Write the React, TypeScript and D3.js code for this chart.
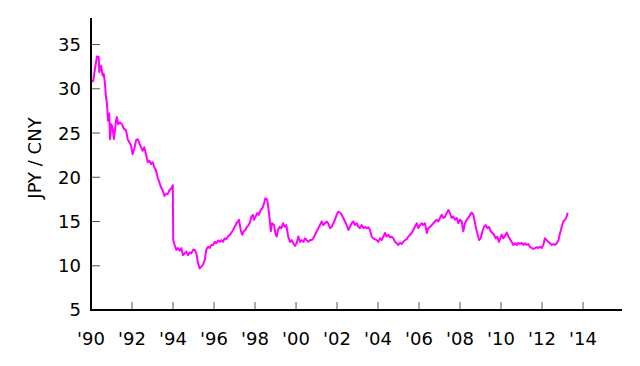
import React from 'react';
import * as d3 from 'd3';

// Decimal years of the sampled points
const years = [
  1990.00, 1990.11, 1990.21, 1990.29, 1990.38, 1990.40, 1990.49, 1990.57, 1990.62, 1990.68,
  1990.73, 1990.78, 1990.83, 1990.89, 1990.93, 1990.99, 1991.06, 1991.12, 1991.22, 1991.27,
  1991.32, 1991.41, 1991.51, 1991.60, 1991.71, 1991.79, 1991.87, 1991.95, 1992.03, 1992.11,
  1992.20, 1992.28, 1992.36, 1992.44, 1992.52, 1992.60, 1992.68, 1992.77, 1992.84, 1992.93,
  1993.01, 1993.09, 1993.17, 1993.25, 1993.33, 1993.41, 1993.50, 1993.58, 1993.66, 1993.74,
  1993.82, 1993.90, 1993.99, 1994.01, 1994.08, 1994.16, 1994.24, 1994.33, 1994.40, 1994.49,
  1994.57, 1994.65, 1994.73, 1994.81, 1994.89, 1994.98, 1995.06, 1995.14, 1995.22, 1995.30,
  1995.38, 1995.46, 1995.55, 1995.62, 1995.71, 1995.79, 1995.87, 1995.95, 1996.03, 1996.11,
  1996.20, 1996.28, 1996.36, 1996.44, 1996.52, 1996.60, 1996.68, 1996.77, 1996.84, 1996.93,
  1997.01, 1997.09, 1997.17, 1997.22, 1997.30, 1997.37, 1997.45, 1997.53, 1997.61, 1997.69,
  1997.77, 1997.82, 1997.90, 1997.95, 1998.03, 1998.11, 1998.18, 1998.28, 1998.36, 1998.44,
  1998.50, 1998.59, 1998.63, 1998.72, 1998.77, 1998.83, 1998.93, 1998.99, 1999.06, 1999.12,
  1999.20, 1999.28, 1999.37, 1999.45, 1999.53, 1999.62, 1999.71, 1999.79, 1999.87, 1999.95,
  2000.03, 2000.11, 2000.20, 2000.28, 2000.36, 2000.44, 2000.52, 2000.60, 2000.68, 2000.77,
  2000.84, 2000.93, 2001.01, 2001.09, 2001.17, 2001.25, 2001.33, 2001.41, 2001.50, 2001.57,
  2001.66, 2001.74, 2001.82, 2001.90, 2001.98, 2002.06, 2002.15, 2002.23, 2002.31, 2002.39,
  2002.47, 2002.55, 2002.63, 2002.72, 2002.80, 2002.88, 2002.96, 2003.04, 2003.12, 2003.20,
  2003.28, 2003.37, 2003.45, 2003.53, 2003.61, 2003.69, 2003.77, 2003.85, 2003.94, 2004.01,
  2004.10, 2004.18, 2004.26, 2004.34, 2004.42, 2004.50, 2004.59, 2004.67, 2004.75, 2004.83,
  2004.91, 2004.99, 2005.07, 2005.15, 2005.23, 2005.32, 2005.40, 2005.48, 2005.56, 2005.64,
  2005.72, 2005.80, 2005.89, 2005.97, 2006.05, 2006.13, 2006.21, 2006.29, 2006.38, 2006.45,
  2006.54, 2006.62, 2006.70, 2006.78, 2006.86, 2006.94, 2007.02, 2007.11, 2007.19, 2007.27,
  2007.35, 2007.43, 2007.51, 2007.59, 2007.67, 2007.76, 2007.84, 2007.92, 2008.00, 2008.08,
  2008.16, 2008.24, 2008.33, 2008.40, 2008.49, 2008.57, 2008.65, 2008.70, 2008.78, 2008.84,
  2008.93, 2009.01, 2009.09, 2009.17, 2009.25, 2009.33, 2009.41, 2009.50, 2009.58, 2009.66,
  2009.74, 2009.82, 2009.90, 2009.95, 2010.03, 2010.11, 2010.20, 2010.28, 2010.36, 2010.44,
  2010.52, 2010.60, 2010.68, 2010.77, 2010.84, 2010.93, 2011.01, 2011.09, 2011.17, 2011.25,
  2011.33, 2011.41, 2011.50, 2011.58, 2011.66, 2011.74, 2011.82, 2011.90, 2011.98, 2012.06,
  2012.14, 2012.23, 2012.31, 2012.39, 2012.47, 2012.55, 2012.63, 2012.72, 2012.80, 2012.88,
  2012.96, 2013.04, 2013.12, 2013.20, 2013.25,
];

// Yen per yuan at those points
const jpyPerCny = [
  30.76, 30.9, 32.5, 33.65, 33.6, 31.9, 32.6, 31.5, 31.7, 30.6,
  29.1, 28.3, 26.4, 27.2, 24.3, 26.0, 25.5, 24.3, 26.4, 26.8,
  26.0, 26.2, 26.0, 25.5, 25.3, 24.3, 23.95, 23.6, 22.6, 23.2,
  24.2, 24.3, 23.85, 23.4, 23.0, 23.4, 22.6, 21.7, 21.9, 21.5,
  21.7, 21.1, 20.8, 20.0, 19.45, 18.9, 18.5, 17.9, 18.1, 18.1,
  18.5, 18.7, 19.1, 12.9, 12.35, 11.8, 12.0, 11.7, 12.0, 11.2,
  11.4, 11.6, 11.2, 11.5, 11.4, 11.8, 11.8, 11.4, 10.3, 9.7,
  9.9, 10.1, 10.65, 11.8, 12.15, 12.0, 12.35, 12.35, 12.7, 12.55,
  12.85, 12.7, 12.9, 12.7, 13.1, 13.0, 13.3, 13.5, 13.7, 14.05,
  14.4, 14.8, 15.0, 15.2, 14.05, 13.5, 13.9, 14.05, 14.4, 14.6,
  15.0, 15.55, 15.75, 15.2, 15.55, 15.95, 15.75, 16.3, 16.5, 17.05,
  17.6, 17.5, 16.9, 15.2, 13.9, 14.8, 14.6, 13.7, 13.3, 14.05,
  14.4, 14.25, 14.8, 14.4, 14.6, 13.3, 12.7, 12.9, 12.55, 12.25,
  12.55, 13.3, 12.7, 12.9, 12.7, 13.1, 12.9, 12.7, 12.9, 12.9,
  13.1, 13.5, 13.9, 14.25, 14.6, 15.0, 14.6, 14.8, 15.0, 14.8,
  14.25, 14.4, 14.8, 15.2, 15.75, 16.1, 16.0, 15.75, 15.4, 15.0,
  14.6, 14.05, 14.4, 14.8, 15.0, 14.6, 14.8, 14.4, 14.25, 14.6,
  14.25, 14.4, 14.25, 14.35, 14.05, 13.3, 13.1, 13.0, 12.9, 12.7,
  13.1, 12.9, 13.3, 13.7, 13.3, 13.5, 13.2, 13.3, 13.1, 12.7,
  12.55, 12.35, 12.6, 12.45, 12.7, 12.9, 13.0, 13.3, 13.5, 13.7,
  14.05, 14.4, 14.8, 14.25, 14.6, 14.8, 14.6, 14.8, 13.7, 14.25,
  14.4, 14.6, 14.8, 15.0, 15.2, 15.0, 15.4, 15.75, 15.4, 15.55,
  15.95, 16.3, 15.95, 15.4, 15.55, 15.2, 15.4, 14.8, 15.2, 15.0,
  13.9, 14.8, 15.2, 15.4, 15.75, 16.0, 15.75, 15.2, 14.25, 13.7,
  12.9, 13.1, 13.9, 14.4, 14.6, 14.25, 14.4, 13.9, 13.7, 13.5,
  13.1, 13.3, 12.7, 13.0, 13.5, 13.1, 13.4, 13.75, 13.3, 13.0,
  12.7, 12.35, 12.55, 12.35, 12.6, 12.45, 12.6, 12.35, 12.55, 12.35,
  12.45, 12.15, 12.0, 11.9, 12.0, 12.1, 12.0, 12.15, 12.0, 12.35,
  13.1, 12.9, 12.7, 12.55, 12.35, 12.45, 12.35, 12.55, 12.9, 13.7,
  14.4, 15.0, 15.2, 15.55, 16.0,
];

const yTicks = [5, 10, 15, 20, 25, 30, 35];
const xTicks = [1990, 1992, 1994, 1996, 1998, 2000, 2002, 2004, 2006, 2008, 2010, 2012, 2014];

const width = 640;
const height = 366;
const margin = { top: 18, right: 18, bottom: 56, left: 91 };
const font = 'DejaVu Sans, sans-serif';

const App: React.FC = () => {
  const x = d3.scaleLinear()
    .domain([1990, 2015.9])
    .range([margin.left, width - margin.right]);

  const y = d3.scaleLinear()
    .domain([5, 38])
    .range([height - margin.bottom, margin.top]);

  const points = years.map((yr, i) => [yr, jpyPerCny[i]] as [number, number]);

  const line = d3.line<[number, number]>()
    .x(d => x(d[0]))
    .y(d => y(d[1]));

  const x0 = x.range()[0];
  const x1 = x.range()[1];
  const y0 = y.range()[0];
  const y1 = y.range()[1];

  return (
    <svg
      width={width}
      height={height}
      style={{ position: 'absolute', left: 0, top: 0, background: '#fff' }}
      fontFamily={font}
    >
      {/* series */}
      <path d={line(points) || ''} fill="none" stroke="#ff00ff" strokeWidth={2} strokeLinejoin="round" />

      {/* y ticks */}
      {yTicks.map(t => (
        <g key={t}>
          <line x1={x0} x2={x0 + 9} y1={y(t)} y2={y(t)} stroke="#555" strokeWidth={1} />
          <text x={x0 - 10} y={y(t)} dy="0.36em" textAnchor="end" fontSize={18} fill="#000">{t}</text>
        </g>
      ))}

      {/* x ticks */}
      {xTicks.map(t => (
        <g key={t}>
          <line x1={x(t)} x2={x(t)} y1={y0} y2={y0 - 8} stroke="#555" strokeWidth={1} />
          <text x={x(t)} y={y0 + 35} textAnchor="middle" fontSize={18} fill="#000">
            {"'" + String(t % 100).padStart(2, '0')}
          </text>
        </g>
      ))}

      {/* axis lines */}
      <line x1={x0} x2={x0} y1={y1} y2={y0 + 1} stroke="#000" strokeWidth={2} />
      <line x1={x0 - 1} x2={x1} y1={y0} y2={y0} stroke="#000" strokeWidth={2} />

      {/* y axis title */}
      <text
        transform={`translate(35, ${(y0 + y1) / 2 - 6}) rotate(-90)`}
        textAnchor="middle"
        dy="0.35em"
        fontSize={18}
        fill="#000"
      >
        JPY / CNY
      </text>
    </svg>
  );
};

export default App;
